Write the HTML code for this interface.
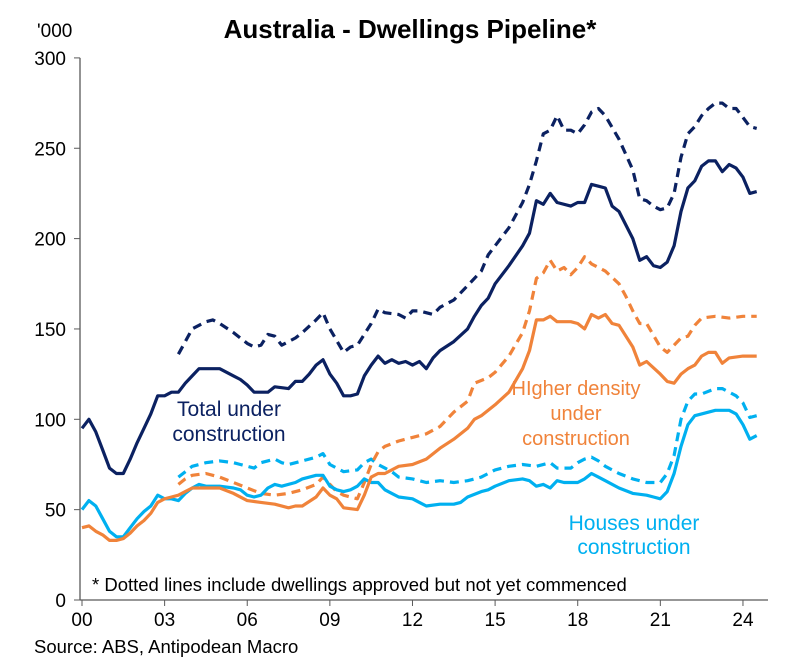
<!DOCTYPE html>
<html><head><meta charset="utf-8"><style>
body{margin:0;background:#fff;width:794px;height:667px;overflow:hidden}
svg{font-family:"Liberation Sans",Arial,sans-serif}
</style></head><body>
<svg id="c" width="794" height="667">
<text x="410" y="38" text-anchor="middle" font-size="26" font-weight="bold">Australia - Dwellings Pipeline*</text>
<text x="37" y="37" font-size="19">'000</text>
<g id="axes"></g><g id="lines"></g>
<text x="229" y="416" text-anchor="middle" font-size="21" fill="#0b2161">Total under</text>
<text x="229" y="441" text-anchor="middle" font-size="21" fill="#0b2161">construction</text>
<text x="576" y="395" text-anchor="middle" font-size="20" fill="#f0833a">HIgher density</text>
<text x="576" y="420" text-anchor="middle" font-size="20" fill="#f0833a">under</text>
<text x="576" y="445" text-anchor="middle" font-size="20" fill="#f0833a">construction</text>
<text x="634" y="530" text-anchor="middle" font-size="21" fill="#00b0f0">Houses under</text>
<text x="634" y="554" text-anchor="middle" font-size="21" fill="#00b0f0">construction</text>
<text x="92" y="591" font-size="18.5">* Dotted lines include dwellings approved but not yet commenced</text>
<text x="34" y="653" font-size="18.5">Source: ABS, Antipodean Macro</text>
</svg>
<script>
const yTicks=[0,50,100,150,200,250,300];
const xTicks=[2000,2003,2006,2009,2012,2015,2018,2021,2024];
const xTickLabels=["00","03","06","09","12","15","18","21","24"];
const totalSolid=[[2000,95],[2000.25,100],[2000.5,93],[2000.75,83],[2001,73],[2001.25,70],[2001.5,70],[2001.75,78],[2002,87],[2002.25,95],[2002.5,103],[2002.75,113],[2003,113],[2003.25,115],[2003.5,115],[2003.75,120],[2004,124],[2004.25,128],[2004.5,128],[2005,128],[2005.5,124],[2005.75,122],[2006,119],[2006.25,115],[2006.75,115],[2007,118],[2007.5,117],[2007.75,121],[2008,121],[2008.25,125],[2008.5,130],[2008.75,133],[2009,125],[2009.25,120],[2009.5,113],[2009.75,113],[2010,114],[2010.25,124],[2010.5,130],[2010.75,135],[2011,131],[2011.25,133],[2011.5,131],[2011.75,132],[2012,130],[2012.25,132],[2012.5,128],[2012.75,134],[2013,138],[2013.5,143],[2014,150],[2014.25,157],[2014.5,163],[2014.75,167],[2015,175],[2015.5,185],[2016,196],[2016.25,203],[2016.5,221],[2016.75,219],[2017,225],[2017.25,220],[2017.75,218],[2018,220],[2018.25,220],[2018.5,230],[2018.75,229],[2019,228],[2019.25,218],[2019.5,215],[2020,200],[2020.25,188],[2020.5,190],[2020.75,185],[2021,184],[2021.25,187],[2021.5,196],[2021.75,215],[2022,228],[2022.25,232],[2022.5,240],[2022.75,243],[2023,243],[2023.25,237],[2023.5,241],[2023.75,239],[2024,234],[2024.25,225],[2024.5,226]];
const totalDotted=[[2003.5,136],[2003.75,143],[2004,150],[2004.5,154],[2004.75,155],[2005,153],[2005.5,148],[2006,142],[2006.25,140],[2006.5,141],[2006.75,147],[2007,146],[2007.25,141],[2007.75,145],[2008,148],[2008.5,155],[2008.75,159],[2009,150],[2009.5,137],[2009.75,140],[2010,141],[2010.5,153],[2010.75,161],[2011,159],[2011.5,158],[2011.75,156],[2012,160],[2012.25,160],[2012.75,158],[2013,162],[2013.5,166],[2014,174],[2014.5,182],[2014.75,191],[2015,196],[2015.5,206],[2016,220],[2016.25,230],[2016.5,243],[2016.75,258],[2017,260],[2017.25,268],[2017.5,260],[2017.75,260],[2018,258],[2018.25,263],[2018.5,270],[2018.75,272],[2019,268],[2019.5,255],[2020,238],[2020.25,222],[2020.5,221],[2020.75,218],[2021,216],[2021.25,217],[2021.5,225],[2021.75,245],[2022,258],[2022.25,262],[2022.5,268],[2022.75,272],[2023,275],[2023.25,275],[2023.5,272],[2023.75,272],[2024,267],[2024.25,262],[2024.5,261]];
const densitySolid=[[2000,40],[2000.25,41],[2000.5,38],[2000.75,36],[2001,33],[2001.25,33],[2001.5,34],[2001.75,37],[2002,41],[2002.25,44],[2002.5,48],[2002.75,54],[2003,56],[2003.25,57],[2003.5,58],[2003.75,60],[2004,62],[2005,62],[2005.5,59],[2006,55],[2006.5,54],[2007,53],[2007.5,51],[2007.75,52],[2008,52],[2008.5,57],[2008.75,62],[2009,58],[2009.25,56],[2009.5,51],[2010,50],[2010.25,58],[2010.5,68],[2010.75,70],[2011,70],[2011.5,74],[2012,75],[2012.5,78],[2013,84],[2013.5,89],[2014,95],[2014.25,100],[2014.5,102],[2014.75,105],[2015,108],[2015.5,115],[2016,128],[2016.25,138],[2016.5,155],[2016.75,155],[2017,157],[2017.25,154],[2017.75,154],[2018,153],[2018.25,150],[2018.5,158],[2018.75,156],[2019,158],[2019.25,153],[2019.5,152],[2020,140],[2020.25,130],[2020.5,132],[2021,125],[2021.25,121],[2021.5,120],[2021.75,125],[2022,128],[2022.25,130],[2022.5,135],[2022.75,137],[2023,137],[2023.25,131],[2023.5,134],[2024,135],[2024.5,135]];
const densityDotted=[[2003.5,64],[2003.75,67],[2004,69],[2004.5,70],[2005,68],[2005.5,65],[2006,62],[2006.5,59],[2007,58],[2007.5,59],[2008,61],[2008.5,64],[2008.75,68],[2009,64],[2009.25,60],[2009.5,58],[2010,56],[2010.25,65],[2010.5,75],[2010.75,82],[2011,85],[2011.5,88],[2012,90],[2012.5,92],[2013,96],[2013.5,104],[2014,110],[2014.25,120],[2014.75,123],[2015,126],[2015.5,135],[2016,148],[2016.25,160],[2016.5,178],[2016.75,181],[2017,188],[2017.25,182],[2017.5,184],[2017.75,180],[2018,184],[2018.25,190],[2018.5,186],[2019,182],[2019.5,175],[2019.75,168],[2020,160],[2020.25,153],[2020.5,153],[2021,140],[2021.25,137],[2021.75,145],[2022,146],[2022.25,152],[2022.5,156],[2023,157],[2023.5,156],[2024,157],[2024.5,157]];
const housesSolid=[[2000,50],[2000.25,55],[2000.5,52],[2000.75,45],[2001,38],[2001.25,35],[2001.5,35],[2001.75,40],[2002,45],[2002.25,49],[2002.5,52],[2002.75,58],[2003,56],[2003.25,56],[2003.5,55],[2003.75,59],[2004,62],[2004.25,64],[2004.5,63],[2005,63],[2005.5,62],[2005.75,61],[2006,58],[2006.25,57],[2006.5,58],[2006.75,62],[2007,64],[2007.25,63],[2007.75,65],[2008,67],[2008.5,69],[2008.75,69],[2009,63],[2009.25,61],[2009.5,60],[2009.75,61],[2010,63],[2010.25,67],[2010.5,65],[2010.75,65],[2011,61],[2011.25,59],[2011.5,57],[2012,56],[2012.25,54],[2012.5,52],[2013,53],[2013.5,53],[2013.75,54],[2014,57],[2014.5,60],[2014.75,61],[2015,63],[2015.5,66],[2016,67],[2016.25,66],[2016.5,63],[2016.75,64],[2017,62],[2017.25,66],[2017.5,65],[2018,65],[2018.25,67],[2018.5,70],[2018.75,68],[2019,66],[2019.5,62],[2020,59],[2020.5,58],[2020.75,57],[2021,56],[2021.25,60],[2021.5,70],[2021.75,85],[2022,97],[2022.25,102],[2022.5,103],[2023,105],[2023.5,105],[2023.75,103],[2024,97],[2024.25,89],[2024.5,91]];
const housesDotted=[[2003.5,68],[2003.75,71],[2004,74],[2004.5,76],[2005,77],[2005.5,76],[2005.75,75],[2006,74],[2006.25,73],[2006.5,76],[2007,78],[2007.25,76],[2007.5,75],[2008,77],[2008.5,79],[2008.75,81],[2009,75],[2009.25,73],[2009.5,71],[2010,72],[2010.25,76],[2010.5,78],[2010.75,75],[2011,73],[2011.25,71],[2011.5,68],[2012,67],[2012.5,65],[2013,66],[2013.5,65],[2014,66],[2014.5,68],[2015,72],[2015.5,74],[2016,75],[2016.5,74],[2017,76],[2017.25,73],[2017.75,73],[2018,76],[2018.25,78],[2018.5,79],[2018.75,77],[2019,74],[2019.5,70],[2020,67],[2020.5,65],[2021,65],[2021.25,70],[2021.5,80],[2021.75,100],[2022,110],[2022.25,114],[2022.5,114],[2023,117],[2023.25,117],[2023.75,113],[2024,109],[2024.25,101],[2024.5,102]];

const NS="http://www.w3.org/2000/svg";
const xS=t=>82+(t-2000)*27.54;
const yS=v=>600-v*1.807;
function mk(tag,attrs,parent){const e=document.createElementNS(NS,tag);for(const k in attrs)e.setAttribute(k,attrs[k]);parent.appendChild(e);return e;}
const ax=document.getElementById('axes');
let e=mk('line',{x1:80,y1:yS(300),x2:80,y2:600,stroke:'#595959','stroke-width':1.3},ax);


e=mk('line',{x1:80,y1:600,x2:768,y2:600,stroke:'#595959','stroke-width':1.3},ax);


yTicks.forEach(v=>{
  mk('line',{x1:74,y1:yS(v),x2:80,y2:yS(v),stroke:'#595959'},ax);
  const t=mk('text',{x:66,y:yS(v)+7,'text-anchor':'end','font-size':19},ax);t.textContent=v;
  
  
});
xTicks.forEach((y,i)=>{
  mk('line',{x1:xS(y),y1:600,x2:xS(y),y2:606,stroke:'#595959'},ax);
  const t=mk('text',{x:xS(y),y:626,'text-anchor':'middle','font-size':19},ax);t.textContent=xTickLabels[i];
  
  
});
const lg=document.getElementById('lines');
function draw(data,color,dashed,name){
  const d=data.map((p,i)=>(i?'L':'M')+xS(p[0]).toFixed(1)+','+yS(p[1]).toFixed(1)).join(' ');
  const p=mk('path',{d:d,fill:'none',stroke:color,'stroke-width':3.2,'stroke-linejoin':'round'},lg);
  if(dashed)p.setAttribute('stroke-dasharray','9,6');
  
  
}
draw(housesDotted,'#00b0f0',true,'houses-dotted-line');
draw(densityDotted,'#f0833a',true,'higher-density-dotted-line');
draw(totalDotted,'#0b2161',true,'total-dotted-line');
draw(housesSolid,'#00b0f0',false,'houses-line');
draw(densitySolid,'#f0833a',false,'higher-density-line');
draw(totalSolid,'#0b2161',false,'total-line');
</script>
</body></html>
